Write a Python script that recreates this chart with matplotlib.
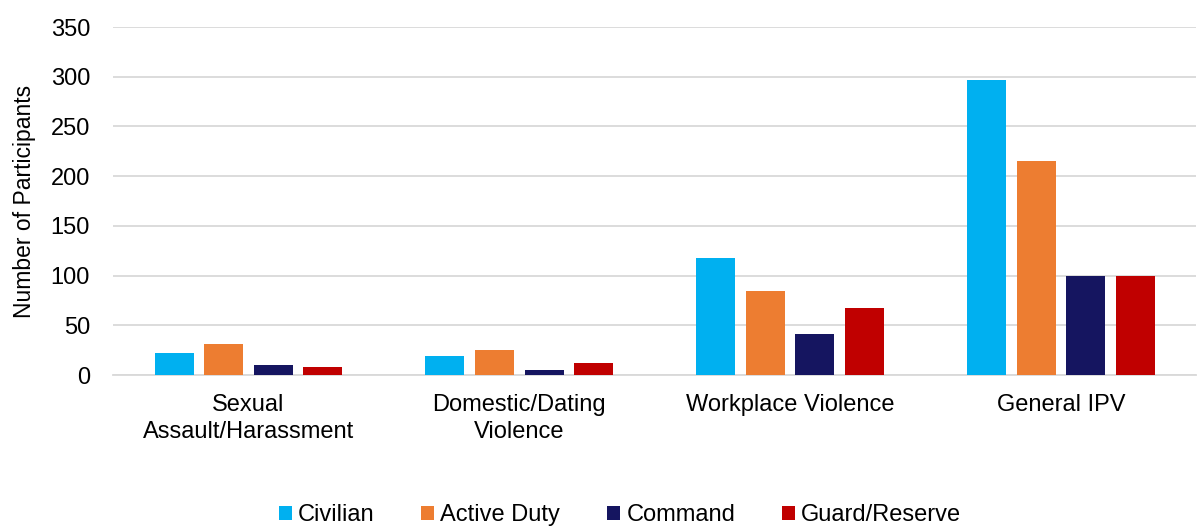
import matplotlib
matplotlib.use('Agg')
import numpy as np
import matplotlib.pyplot as plt

plt.rcParams['font.family'] = ['Liberation Sans', 'DejaVu Sans']

categories = ['Sexual\nAssault/Harassment', 'Domestic/Dating\nViolence',
              'Workplace Violence', 'General IPV']
series = ['Civilian', 'Active Duty', 'Command', 'Guard/Reserve']
civilian = [22, 19, 118, 297]
active_duty = [31, 25, 84, 215]
command = [10, 5, 41, 100]
guard_reserve = [8, 12, 67, 100]
colors = ['#00B0F0', '#ED7D31', '#151560', '#C00000']
yticks = [0, 50, 100, 150, 200, 250, 300, 350]

FS = 17

fig = plt.figure(figsize=(11.97, 5.27), dpi=100)
ax = fig.add_axes([0.0944, 0.2884, 0.905, 0.6603])

x = np.arange(len(categories))
width = 0.144
step = 0.183
for i, (name, vals) in enumerate(zip(series, [civilian, active_duty, command, guard_reserve])):
    ax.bar(x + (i - 1.5) * step, vals, width, color=colors[i], label=name, zorder=3)

ax.set_xlim(-0.5, 3.5)
ax.set_ylim(0, 350)
ax.set_yticks(yticks)
ax.set_xticks(x)
ax.set_xticklabels(categories, fontsize=FS, linespacing=1.32)
ax.tick_params(axis='y', labelsize=FS, length=0, pad=16.5)
ax.tick_params(axis='x', length=0, pad=13.5)
ax.grid(axis='y', color='#D9D9D9', linewidth=1.3, zorder=0)
for s in ['top', 'right', 'left']:
    ax.spines[s].set_visible(False)
ax.spines['bottom'].set_color('#D9D9D9')
ax.spines['bottom'].set_linewidth(1.3)
ax.set_ylabel('Number of Participants', fontsize=16.5, labelpad=10.5)

fig.legend(loc='center', bbox_to_anchor=(0.518, 0.022), ncol=4, frameon=False,
           fontsize=FS, handlelength=0.55, handleheight=0.55, handletextpad=0.25,
           columnspacing=2.0)

fig.savefig('out.png', dpi=100)
